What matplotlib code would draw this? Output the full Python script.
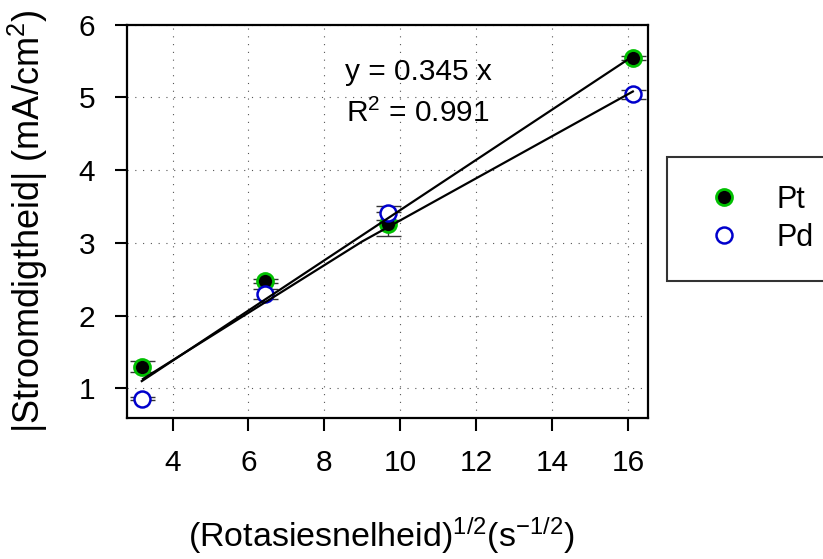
import matplotlib
matplotlib.use("Agg")
from matplotlib import pyplot as plt
from matplotlib.lines import Line2D

plt.rcParams['font.family'] = ['Liberation Sans', 'DejaVu Sans']
plt.rcParams['mathtext.fontset'] = 'custom'
plt.rcParams['mathtext.rm'] = 'Liberation Sans'
plt.rcParams['mathtext.it'] = 'Liberation Sans:italic'
plt.rcParams['mathtext.bf'] = 'Liberation Sans:bold'

# data
x_vals = [3.19, 6.43, 9.67, 16.13]
pt_vals = [1.30, 2.48, 3.26, 5.54]
pt_err = [0.08, 0.03, 0.17, 0.03]
pd_vals = [0.86, 2.30, 3.41, 5.04]
pd_err = [0.02, 0.065, 0.10, 0.065]

pt_slope = 0.345
pd_fit_x = [3.22, 9.0, 16.13]
pd_fit_y = [1.13, 3.02, 5.08]

fit_text = 'y = 0.345 x'
r2_text = 'R$^2$ = 0.991'

x_ticks = [4, 6, 8, 10, 12, 14, 16]
y_ticks = [1, 2, 3, 4, 5, 6]

green = '#00c000'
blue = '#0000cc'

fig = plt.figure(figsize=(8.23, 5.59), dpi=100)
ax = fig.add_axes([0.1543, 0.2531, 0.6331, 0.7030])

# error bars first, markers on top, fit lines over everything
ax.errorbar(x_vals, pt_vals, yerr=pt_err, fmt='none', ecolor='#333333',
            elinewidth=1, capsize=9, capthick=1, zorder=2)
ax.errorbar(x_vals, pd_vals, yerr=pd_err, fmt='none', ecolor='#333333',
            elinewidth=1, capsize=9, capthick=1, zorder=2)
ax.plot(x_vals, pt_vals, 'o', ms=11.5, mfc='black', mec=green, mew=2, zorder=3)
ax.plot(x_vals, pd_vals, 'o', ms=11.5, mfc='white', mec=blue, mew=1.8, zorder=4)

fx = [x_vals[0], x_vals[-1]]
ax.plot(fx, [pt_slope * v for v in fx], color='black', lw=1.6, zorder=5)
ax.plot(pd_fit_x, pd_fit_y, color='black', lw=1.6, zorder=5)

ax.text(0.5585, 0.879, fit_text, transform=ax.transAxes, ha='center',
        va='center', fontsize=21.5)
ax.text(0.5585, 0.775, r2_text, transform=ax.transAxes, ha='center',
        va='center', fontsize=21.5)

ax.set_xlim(2.8, 16.53)
ax.set_ylim(0.6, 6.0)
ax.set_xticks(x_ticks)
ax.set_yticks(y_ticks)
ax.grid(True, color='#555555', lw=0.8, linestyle=(0, (1, 6)))
ax.tick_params(direction='out', length=9, width=1.5, labelsize=21.5, pad=14,
               top=False, right=False)
for s in ax.spines.values():
    s.set_linewidth(1.6)

ax.set_xlabel(r'(Rotasiesnelheid)$^{1/2}$(s$^{-1/2}$)', fontsize=24.5, va='center')
ax.xaxis.set_label_coords(0.4875, -0.30)
ax.set_ylabel(r'|Stroomdigtheid| (mA/cm$^2$)', fontsize=26, va='center')
ax.yaxis.set_label_coords(-0.19, 0.50)

handles = [
    Line2D([], [], linestyle='none', marker='o', ms=11.5, mfc='black', mec=green, mew=2),
    Line2D([], [], linestyle='none', marker='o', ms=11.5, mfc='white', mec=blue, mew=1.8),
]
leg = fig.legend(handles, ['Pt', 'Pd'], loc='upper left',
                 bbox_to_anchor=(0.8104, 0.7191), fontsize=22,
                 frameon=True, fancybox=False, borderpad=0.92,
                 labelspacing=0.25, handlelength=1.9, handletextpad=0.75,
                 borderaxespad=0)
leg.get_frame().set_edgecolor('black')
leg.get_frame().set_linewidth(1.5)

fig.savefig('out.png', dpi=100)
